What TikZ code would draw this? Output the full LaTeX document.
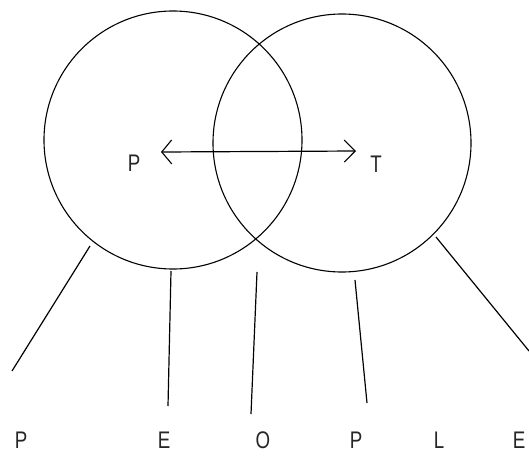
\documentclass[tikz,border=0pt]{standalone}
\usepackage{fontspec}
\setmainfont{Liberation Sans}
\usetikzlibrary{arrows.meta}
\newcommand\narrowtxt[1]{\scalebox{0.78}[1]{#1}}
\begin{document}
\begin{tikzpicture}[x=1pt,y=-1pt,
  ring/.style={draw=black,circle,line width=1.1pt,minimum size=258pt,inner sep=0pt},
  spoke/.style={draw=black,line width=1.2pt},
  letter/.style={font=\fontsize{24}{24}\selectfont,inner sep=0pt,anchor=center,text=black!85}]
\useasboundingbox (0,0) rectangle (529,455);
\node[ring] (L) at (173,140) {};
\node[ring] (R) at (342,143) {};
\node[letter] (P) at (134,163) {\narrowtxt{P}};
\node[letter] (T) at (376,164) {\narrowtxt{T}};
\coordinate (a1) at (161,152);
\coordinate (a2) at (356,151);
\draw[line width=1.2pt,{Straight Barb[length=10pt,width=24pt,line width=1.1pt]}-{Straight Barb[length=11pt,width=22pt,line width=1.1pt]}] (a1) -- (a2);
\node[letter] (l1) at (21,440) {\narrowtxt{P}};
\node[letter] (l2) at (164,440) {\narrowtxt{E}};
\node[letter] (l3) at (263,440) {\narrowtxt{O}};
\node[letter] (l4) at (356,440) {\narrowtxt{P}};
\node[letter] (l5) at (439,440) {\narrowtxt{L}};
\node[letter] (l6) at (519,440) {\narrowtxt{E}};
\coordinate (s1a) at (90,246); \coordinate (s1b) at (12,371);
\coordinate (s2a) at (171,271); \coordinate (s2b) at (168,406);
\coordinate (s3a) at (257,272); \coordinate (s3b) at (251,414);
\coordinate (s4a) at (355,280); \coordinate (s4b) at (367,403);
\coordinate (s5a) at (436,237); \coordinate (s5b) at (529,351);
\draw[spoke] (s1a) -- (s1b);
\draw[spoke] (s2a) -- (s2b);
\draw[spoke] (s3a) -- (s3b);
\draw[spoke] (s4a) -- (s4b);
\draw[spoke] (s5a) -- (s5b);
\end{tikzpicture}
\end{document}
